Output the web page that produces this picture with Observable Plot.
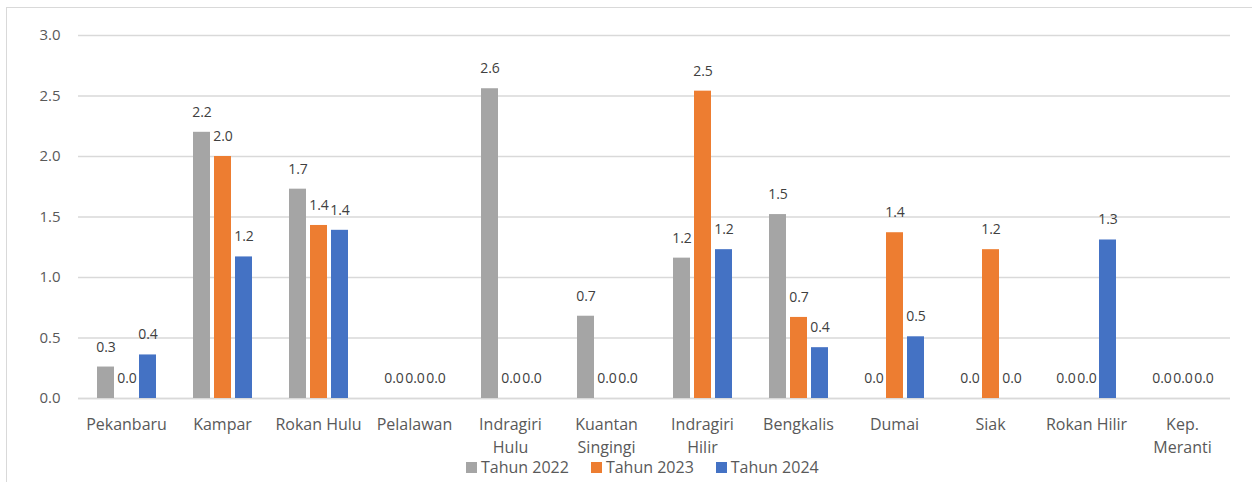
<!DOCTYPE html>
<html>
<head>
<meta charset="utf-8">
<script src="https://cdn.jsdelivr.net/npm/d3@7"></script>
<script src="https://cdn.jsdelivr.net/npm/@observablehq/plot@0.6"></script>
<style>
  body { margin: 0; background: #fff; font-family: "Open Sans", sans-serif; }
  #wrap { position: relative; width: 1252px; height: 482px; overflow: hidden; background: #fff; }
  #frame { position: absolute; left: 6px; top: 7px; width: 1300px; height: 520px; border: 1px solid #d9d9d9; box-sizing: border-box; }
  #chart { position: absolute; left: 0; top: 0; }
  #legend { position: absolute; left: 466px; top: 456px; display: flex; align-items: center; font-size: 16px; color: #595959; white-space: nowrap; }
  .item { display: flex; align-items: center; margin-right: 22px; }
  .sw { width: 11px; height: 11px; margin-right: 4px; }
</style>
</head>
<body>
<div id="wrap">
  <div id="frame"></div>
  <div id="chart"></div>
  <div id="legend"></div>
</div>
<script>
const regions = ["Pekanbaru", "Kampar", "Rokan Hulu", "Pelalawan", "Indragiri Hulu", "Kuantan Singingi", "Indragiri Hilir", "Bengkalis", "Dumai", "Siak", "Rokan Hilir", "Kep. Meranti"];
const regionLabels = ["Pekanbaru", "Kampar", "Rokan Hulu", "Pelalawan", "Indragiri\nHulu", "Kuantan\nSingingi", "Indragiri\nHilir", "Bengkalis", "Dumai", "Siak", "Rokan Hilir", "Kep.\nMeranti"];
const years = ["Tahun 2022", "Tahun 2023", "Tahun 2024"];
const values2022 = [0.26, 2.2, 1.73, 0, 2.56, 0.68, 1.16, 1.52, 0, 0, 0, 0];
const values2023 = [0, 2.0, 1.43, 0, 0, 0, 2.54, 0.67, 1.37, 1.23, 0, 0];
const values2024 = [0.36, 1.17, 1.39, 0, 0, 0, 1.23, 0.42, 0.51, 0, 1.31, 0];
const colors = ["#a5a5a5", "#ed7d31", "#4472c4"];
const yTicks = [0, 0.5, 1.0, 1.5, 2.0, 2.5, 3.0];

const series = [values2022, values2023, values2024];
const data = [];
regions.forEach((r, i) => {
  years.forEach((y, j) => data.push({region: r, year: y, value: series[j][i]}));
});
const labelOf = Object.fromEntries(regions.map((r, i) => [r, regionLabels[i]]));

const chart = Plot.plot({
  width: 1252,
  height: 482,
  marginLeft: 78,
  marginRight: 22,
  marginTop: 35,
  marginBottom: 84,
  style: {fontFamily: "Open Sans, sans-serif", background: "transparent"},
  fx: {domain: regions, padding: 0},
  x: {domain: years, paddingInner: 0.2, paddingOuter: 0.83, axis: null},
  y: {domain: [0, 3]},
  color: {domain: years, range: colors},
  marks: [
    Plot.gridY(yTicks, {stroke: "#d9d9d9", strokeOpacity: 1, strokeWidth: 1.3}),
    Plot.ruleY([0], {stroke: "#d9d9d9", strokeWidth: 1.3}),
    Plot.barY(data, {fx: "region", x: "year", y: "value", fill: "year"}),
    Plot.text(data, {fx: "region", x: "year", y: "value", text: d => d.value.toFixed(1), dy: -20, fontSize: 14, fill: "#404040"}),
    Plot.axisY(yTicks, {tickFormat: d => d.toFixed(1), tickSize: 0, tickPadding: 18, fontSize: 15, fill: "#595959", label: null}),
    Plot.axisFx({anchor: "bottom", tickFormat: d => labelOf[d], tickSize: 0, tickPadding: 15, fontSize: 16, fill: "#595959", lineHeight: 1.45, label: null})
  ]
});
document.getElementById("chart").appendChild(chart);

const legend = document.getElementById("legend");
years.forEach((y, j) => {
  const it = document.createElement("div");
  it.className = "item";
  const sw = document.createElement("div");
  sw.className = "sw";
  sw.style.background = colors[j];
  const t = document.createElement("span");
  t.textContent = y;
  it.appendChild(sw); it.appendChild(t);
  legend.appendChild(it);
});
</script>
</body>
</html>
